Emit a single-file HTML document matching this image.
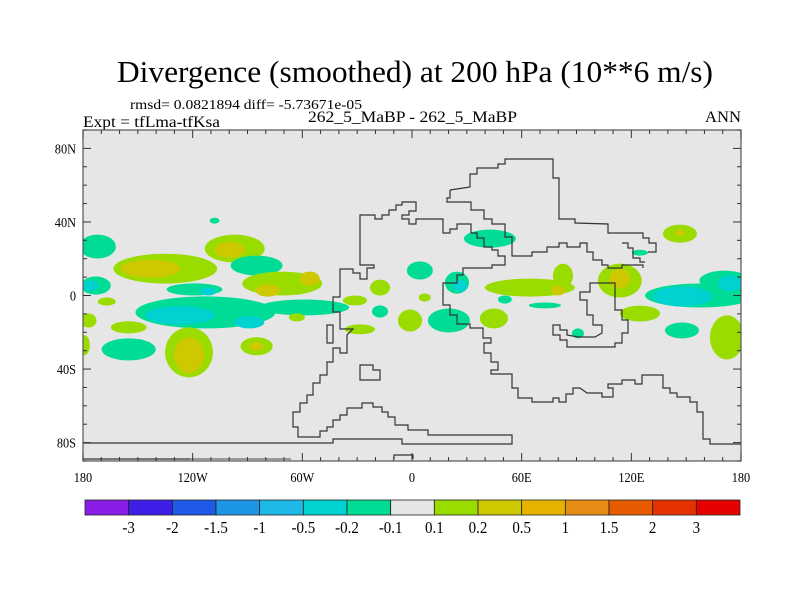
<!DOCTYPE html>
<html><head><meta charset="utf-8"><style>
html,body{margin:0;padding:0;background:#fff;}
svg{display:block;font-family:"Liberation Serif",serif;}
</style></head><body>
<svg id="chart" width="800" height="600" viewBox="0 0 800 600" xmlns="http://www.w3.org/2000/svg">
<text x="415" y="82" font-size="31" text-anchor="middle" textLength="596" lengthAdjust="spacingAndGlyphs">Divergence (smoothed) at 200 hPa (10**6 m/s)</text>
<text x="130" y="109" font-size="14" textLength="232" lengthAdjust="spacingAndGlyphs">rmsd= 0.0821894 diff= -5.73671e-05</text>
<text x="83" y="127" font-size="16" textLength="137" lengthAdjust="spacingAndGlyphs">Expt = tfLma-tfKsa</text>
<text x="308" y="122" font-size="16" textLength="209" lengthAdjust="spacingAndGlyphs">262_5_MaBP - 262_5_MaBP</text>
<text x="741" y="122" font-size="16" text-anchor="end" textLength="36" lengthAdjust="spacingAndGlyphs">ANN</text>
<clipPath id="pc"><rect x="83" y="130" width="658" height="331"/></clipPath>
<rect x="83" y="130" width="658" height="331" fill="#e6e6e6"/>
<g id="fills" clip-path="url(#pc)"></g>
<g id="coast" fill="none" stroke="#333" stroke-width="1.2" clip-path="url(#pc)"></g>
<rect x="83" y="130" width="658" height="331" fill="none" stroke="#555" stroke-width="1.2"/>
<g id="axes"></g>
<g id="cbar"></g>
</svg>
<script>
// contour blobs: lon, lat, lon-radius, lat-radius, value
const blobLon = [-172,-135,-97,-85,-71,-173,-113,-119,-59,-167,-177,-155,-155,-122,-85,-63,-108,-179,42.6,4.3,24.6,64.5,82.6,113.7,146.6,124.7,157.5,171,124.7,147.7,172.3,44.8,20.2,-1.1,50.8,72.7,7,90.8,-17.5,-31.2,-28.5,-17.5,
 -143,-99.6,-79,-56,-176,-127,-89,-111.6,-122,-85,26.2,80,113.7,146.6,148,174];
const blobLat = [26.6,14.6,25.5,16.3,6.5,5.4,-9.2,3.3,-6.5,-3.3,-13.6,-17.3,-29.3,-30.9,-27.6,-11.9,40.7,-27,30.9,13.6,7,4.3,10.8,8.1,33.6,23.3,0,8.1,-9.8,-19,-22.8,-12.5,-13.6,-13.6,-2.2,-5.4,-1.1,-20.6,-8.7,-2.7,-18.4,4.3,
 14.6,24.9,2.7,9.2,5.4,-10.8,-14.6,2.2,-32.5,-27.6,5.4,2.7,9.2,34.1,-0.5,6.5];
const blobRLon = [10,28.4,16.4,14.2,21.9,8.2,38.3,15.3,24.6,4.9,4.4,9.8,14.8,13.1,8.8,4.4,2.7,2.7,14.2,7.1,6.6,24.6,5.5,12,9.3,4.4,30,13.7,11,9.3,9.3,7.7,11.5,6.6,3.8,8.8,3.3,3.3,4.4,6.6,8.2,5.5,
 16.4,8.2,6.6,5.5,4.4,19.1,8.2,4.4,8.2,3.8,3.8,3.8,5.5,2.7,16.4,6.6];
const blobRLat = [6.5,8.1,7.6,5.4,6.5,4.9,8.7,3.3,4.3,2.2,3.8,3.3,6,13.6,4.9,2.2,1.6,5.4,4.9,4.9,6,4.9,6.5,9.2,4.9,1.6,6.5,5.4,4.3,4.3,12,5.4,6.5,6,2.2,1.6,2.2,2.7,3.3,2.7,2.7,4.3,
 4.9,4.3,3.3,3.8,2.7,4.9,3.3,2.2,9.8,2.2,3.3,2.7,5.4,1.6,5.4,4.3];
const blobVal = [-0.15,0.15,0.15,-0.15,0.15,-0.15,-0.15,-0.15,-0.15,0.15,0.15,0.15,-0.15,0.15,0.15,0.15,-0.15,0.15,-0.15,-0.15,-0.15,0.15,0.15,0.15,0.15,-0.15,-0.15,-0.15,0.15,-0.15,0.15,0.15,-0.15,0.15,-0.15,-0.15,0.15,-0.15,-0.15,0.15,0.15,0.15,
 0.3,0.3,0.3,0.3,-0.3,-0.3,-0.3,-0.3,0.3,0.3,-0.3,0.3,0.3,0.3,-0.3,-0.3];
// colorbar
const levels = ["-3","-2","-1.5","-1","-0.5","-0.2","-0.1","0.1","0.2","0.5","1","1.5","2","3"];
const levelColors = ["#8a1ee6","#3c1ee6","#1e5ae6","#1e96e6","#1eb9e6","#00d2d2","#00dc96","#e6e6e6","#9bdc00","#cdc800","#e6b400","#e68c14","#e65a00","#e63200","#e60000"];
const yTicks = [80,40,0,-40,-80];
const yTickLabels = ["80N","40N","0","40S","80S"];
const xTicks = [-180,-120,-60,0,60,120,180];
const xTickLabels = ["180","120W","60W","0","60E","120E","180"];

const NS="http://www.w3.org/2000/svg";
const X0=83,X1=741,Y0=130,Y1=461;
const xs = lon => X0 + (lon+180)/360*(X1-X0);
const ys = lat => Y0 + (90-lat)/180*(Y1-Y0);
const kx=(X1-X0)/360, ky=(Y1-Y0)/180;
function colorFor(v){
  const b=[-3,-2,-1.5,-1,-0.5,-0.2,-0.1,0.1,0.2,0.5,1,1.5,2,3];
  let i=0; while(i<b.length && v>=b[i]) i++; return levelColors[i];
}
function mk(t,attrs,parent){const e=document.createElementNS(NS,t);for(const k in attrs)e.setAttribute(k,attrs[k]);parent.appendChild(e);return e;}
const fills=document.getElementById('fills');
const order=[...blobVal.keys()].sort((a,b)=>Math.abs(blobVal[a])-Math.abs(blobVal[b]));
order.forEach(i=>{
  const e=mk('ellipse',{cx:xs(blobLon[i]),cy:ys(blobLat[i]),rx:blobRLon[i]*kx,ry:blobRLat[i]*ky,fill:colorFor(blobVal[i])},fills);
  
  
});
// coastlines (map geometry, pixel traces)
const coastPaths=[
 "M450,190 L470,187 L470,174 L477,174 L477,168 L498,168 L498,164 L505,164 L505,159 L553,159 L553,178 L559,178 L559,219 L575,219 L575,223 L608,224 L608,233 L643,233 L643,238 L649,238 L649,243 L656,243 L656,252 L648,252",
 "M450,190 L450,198 L447,198 L447,202 L450,202 L471,202 L471,210 L484,210 L484,219 L492,219 L492,224 L498,224 L505,224 L505,237 L512,237 L512,256 L532,256 L532,252 L547,252 L547,247 L559,247 L559,243 L567,243 L567,247 L580,247 L580,243 L587,243 L587,252 L593,252 L593,260 L602,260 L602,265 L608,265 L608,268 L622,268 L622,265 L643,265 L643,268",
 "M622,243 L628,243 L628,248 L633,248 L633,258 L640,258 L640,262 L645,262",
 "M360,233 L360,265 L374,265 L374,268 L367,268 L367,279 L360,279 L360,273 L353,273 L353,269 L340,269 L340,297 L333,297 L333,312 L340,312 L340,329 L353,329 L347,335 L347,353 L340,353 L340,348 L333,348 L333,362 L327,362 L327,375 L320,375 L320,383 L313,383 L313,395 L307,395 L307,403 L300,403 L300,412 L293,412 L293,427 L298,427 L298,437 L320,437 L320,431 L327,431 L327,427 L333,427 L333,420 L340,420 L340,415 L347,415 L347,408 L362,408 L362,403 L373,403 L373,407 L382,407 L382,412 L388,412 L388,417 L395,417 L395,425 L408,425 L408,430 L428,430 L428,435 L512,435 L512,444 L402,444 L402,439 L333,439 L333,443 L83,443",
 "M360,233 L360,215 L367,215 L375,215 L375,219 L382,219 L382,215 L389,215 L389,210 L396,210 L396,205 L402,205 L402,202 L416,202 L416,211 L409,211 L409,215 L402,215 L402,219 L409,219 L409,224 L416,224 L416,219 L443,219 L443,233 L450,233 L450,229 L457,229 L457,224 L471,224 L471,233 L477,233 L477,238 L484,238 L484,247 L492,247 L492,250 L498,250 L498,256 L505,256 L505,265 L492,265 L492,268 L463,268 L463,275 L457,275 L457,283 L443,283 L443,305 L450,305 L450,315 L457,315 L457,324 L470,324 L470,328 L483,328 L483,338 L491,338 L491,343 L484,343 L484,353 L491,353 L491,362 L498,362 L498,370 L491,370 L491,374 L512,374 L512,388 L518,388 L518,398 L532,398 L532,402 L553,402 L553,398 L559,398 L559,402 L566,402 L566,394 L573,394 L573,388 L580,388 L587,393 L602,393 L602,397 L613,397 L613,388 L608,388 L608,384 L622,384 L622,380 L635,380 L635,384 L642,384 L642,375 L663,375 L663,388 L670,388 L670,393 L677,393 L677,397 L690,397 L690,402 L697,402 L697,412 L703,412 L703,439 L710,439 L710,444 L741,444",
 "M597,283 L615,283 L615,310 L622,310 L622,320 L628,320 L628,333 L622,333 L622,343 L615,343 L615,347 L567,347 L567,340 L560,340 L560,335 L553,335 L553,325 L560,325 L560,330 L567,330 L567,335 L578,337 L595,337 L602,333 L602,325 L593,325 L593,315 L587,315 L587,300 L580,300 L580,292 L590,292 L590,283 Z",
 "M327,325 L333,325 L333,343 L327,343 Z",
 "M360,365 L373,365 L373,370 L380,370 L380,380 L360,380 Z",
 "M83,459 L190,459",
 "M394,459 L394,455 L413,455 L413,459"
];
const coast=document.getElementById('coast');
coastPaths.forEach(d=>{const p=mk('path',{d:d},coast);
  
  });
const gl=mk('path',{d:"M190,459 L291,459",stroke:'#999','stroke-width':2},coast);


// axes ticks
const axes=document.getElementById('axes');
for(let lat=-90;lat<=90;lat+=10){
  const L=(lat%40===0)?8:4;
  mk('line',{x1:X0,x2:X0+L,y1:ys(lat),y2:ys(lat),stroke:'#333'},axes);
  mk('line',{x1:X1,x2:X1-L,y1:ys(lat),y2:ys(lat),stroke:'#333'},axes);
}
for(let lon=-180;lon<=180;lon+=10){
  const L=(lon%60===0)?8:4;
  mk('line',{x1:xs(lon),x2:xs(lon),y1:Y0,y2:Y0+L,stroke:'#333'},axes);
  mk('line',{x1:xs(lon),x2:xs(lon),y1:Y1,y2:Y1-L,stroke:'#333'},axes);
}
yTicks.forEach((v,i)=>{const t=mk('text',{x:X0-7,y:ys(v)+5,'font-size':14,'text-anchor':'end',transform:`translate(${X0-7},0) scale(0.88,1) translate(${-(X0-7)},0)`},axes);t.textContent=yTickLabels[i];
  
  });
xTicks.forEach((v,i)=>{const t=mk('text',{x:xs(v),y:482,'font-size':14,'text-anchor':'middle',transform:`translate(${xs(v)},0) scale(0.88,1) translate(${-xs(v)},0)`},axes);t.textContent=xTickLabels[i];
  
  });
// colorbar
const cb=document.getElementById('cbar');
const CX0=85,CX1=740,CY=500,CH=15,bw=(CX1-CX0)/levelColors.length;
levelColors.forEach((c,i)=>{const r=mk('rect',{x:CX0+i*bw,y:CY,width:bw,height:CH,fill:c,stroke:'#222','stroke-width':0.8},cb);
  
  });
levels.forEach((s,i)=>{const cx=CX0+(i+1)*bw;const t=mk('text',{x:cx,y:533,'font-size':17,'text-anchor':'middle',transform:`translate(${cx},0) scale(0.88,1) translate(${-cx},0)`},cb);t.textContent=s;
  
  });
</script>
</body></html>
